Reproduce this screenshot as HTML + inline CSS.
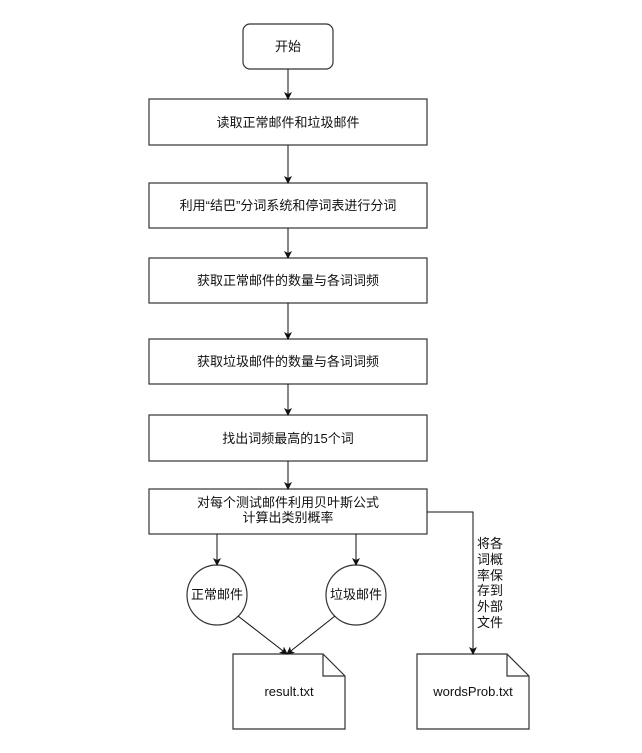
<!DOCTYPE html>
<html><head><meta charset="utf-8"><style>
html,body{margin:0;padding:0;background:#fff;}
svg text{font-family:"Liberation Sans","Noto Sans CJK SC",sans-serif;font-size:13px;fill:#111;}
</style></head><body>
<svg width="642" height="748" xmlns="http://www.w3.org/2000/svg">
<defs><marker id="a" markerWidth="8" markerHeight="8" refX="7" refY="4" orient="auto" markerUnits="userSpaceOnUse"><path d="M0,0 L8,4 L0,8 L2,4 Z" fill="#111"/></marker></defs>
<g stroke="#333" stroke-width="1.2" fill="#fff">
<rect x="243" y="24" width="90" height="45" rx="7"/>
<rect x="149" y="99" width="278" height="46"/>
<rect x="149" y="183" width="278" height="45"/>
<rect x="149" y="258" width="278" height="45"/>
<rect x="149" y="339" width="278" height="45"/>
<rect x="149" y="415" width="278" height="46"/>
<rect x="149" y="489" width="278" height="45"/>
<circle cx="217" cy="595" r="30"/>
<circle cx="356" cy="595" r="30"/>
<path d="M233,654 H323 L345,676 V729 H233 Z"/>
<path d="M323,654 V676 H345" fill="none"/>
<path d="M417,654 H507 L529,676 V729 H417 Z"/>
<path d="M507,654 V676 H529" fill="none"/>
</g>
<g stroke="#111" stroke-width="1" fill="none" marker-end="url(#a)">
<line x1="288" y1="69" x2="288" y2="99"/>
<line x1="288" y1="145" x2="288" y2="183"/>
<line x1="288" y1="228" x2="288" y2="258"/>
<line x1="288" y1="303" x2="288" y2="339"/>
<line x1="288" y1="384" x2="288" y2="415"/>
<line x1="288" y1="461" x2="288" y2="489"/>
<line x1="217" y1="534" x2="217" y2="565"/>
<line x1="356" y1="534" x2="356" y2="565"/>
<line x1="238" y1="616" x2="287" y2="654"/>
<line x1="335" y1="616" x2="287" y2="654"/>
<polyline points="427,512 473,512 473,654"/>
</g>
<g text-anchor="middle">
<text x="288" y="51">开始</text>
<text x="288" y="127">读取正常邮件和垃圾邮件</text>
<text x="288" y="210">利用“结巴”分词系统和停词表进行分词</text>
<text x="288" y="285">获取正常邮件的数量与各词词频</text>
<text x="288" y="366">获取垃圾邮件的数量与各词词频</text>
<text x="288" y="443">找出词频最高的15个词</text>
<text x="288" y="507">对每个测试邮件利用贝叶斯公式</text>
<text x="288" y="522">计算出类别概率</text>
<text x="217" y="599">正常邮件</text>
<text x="356" y="599">垃圾邮件</text>
<text x="289" y="696">result.txt</text>
<text x="473" y="696">wordsProb.txt</text>
</g>
<g>
<text x="477" y="548">将各</text>
<text x="477" y="564">词概</text>
<text x="477" y="580">率保</text>
<text x="477" y="595">存到</text>
<text x="477" y="611">外部</text>
<text x="477" y="627">文件</text>
</g>
</svg>
</body></html>
